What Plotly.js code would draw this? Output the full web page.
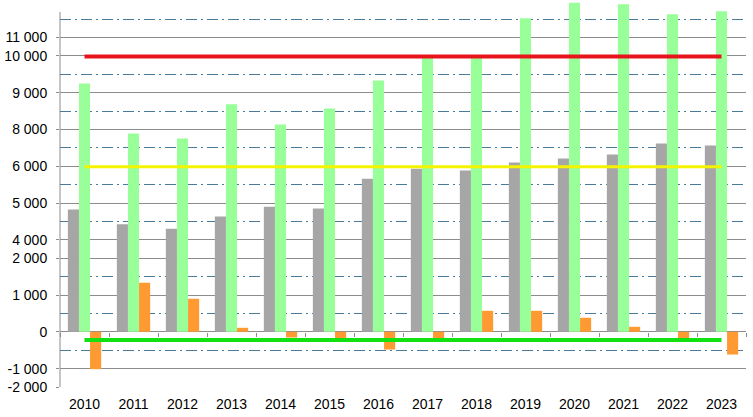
<!DOCTYPE html>
<html>
<head>
<meta charset="utf-8">
<script src="https://cdn.plot.ly/plotly-3.0.1.min.js"></script>
<style>html,body{margin:0;padding:0;background:#fff;}#chart{width:753px;height:417px;}</style>
</head>
<body>
<div id="chart"></div>
<script>
// Categories
var years = ['2010','2011','2012','2013','2014','2015','2016','2017','2018','2019','2020','2021','2022','2023'];
// Series values (in the chart's linear plotting scale)
var greySeries   = [3320, 2920, 2800, 3130, 3400, 3350, 4160, 4430, 4380, 4600, 4710, 4820, 5120, 5060];
var greenSeries  = [6750, 5390, 5250, 6180, 5630, 6070, 6830, 7450, 7460, 8520, 8940, 8900, 8630, 8710];
var orangeSeries = [-1015, 1333, 898, 109, -155, -190, -482, -198, 571, 571, 381, 136, -190, -618];
// Reference lines
var redLine    = [7483, 7483, 7483, 7483, 7483, 7483, 7483, 7483, 7483, 7483, 7483, 7483, 7483, 7483];
var yellowLine = [4482, 4482, 4482, 4482, 4482, 4482, 4482, 4482, 4482, 4482, 4482, 4482, 4482, 4482];
var limeLine   = [-226, -226, -226, -226, -226, -226, -226, -226, -226, -226, -226, -226, -226, -226];
// Tick labels
var tickVals  = [-1500, -1000, 0, 1000, 2000, 2500, 3500, 4500, 5500, 6500, 7500, 8000];
var tickTexts = ['-2 000', '-1 000', '0', '1 000', '2 000', '4 000', '5 000', '6 000', '8 000', '9 000', '10 000', '11 000'];
var minorVals = [-500, 500, 1500, 3000, 4000, 5000, 6000, 7000, 8500];

var yMin = -1500, yMax = 8989, axisTop = 8690;

var traces = [
  {type:'bar', x:years, y:greySeries, marker:{color:'#a6a6a6'}, name:'A'},
  {type:'bar', x:years, y:greenSeries, marker:{color:'#99ff99'}, name:'B'},
  {type:'bar', x:years, y:orangeSeries, marker:{color:'#ff9a33'}, name:'C'},
  {type:'scatter', mode:'lines', x:years, y:redLine, line:{color:'#e8141c', width:4}, name:'D'},
  {type:'scatter', mode:'lines', x:years, y:yellowLine, line:{color:'#f4f400', width:3}, name:'E'},
  {type:'scatter', mode:'lines', x:years, y:limeLine, line:{color:'#11e011', width:4}, name:'F'}
];

var layout = {
  width:753, height:417,
  margin:{l:60, r:7, t:1, b:30},
  paper_bgcolor:'#fff', plot_bgcolor:'#fff',
  showlegend:false,
  barmode:'group', bargap:0.32, bargroupgap:0,
  font:{family:'Liberation Sans, Arial, sans-serif', size:14, color:'#000'},
  xaxis:{
    type:'category', categoryorder:'array', categoryarray:years,
    anchor:'free', position:(0 - yMin)/(yMax - yMin),
    showline:false, showgrid:false, zeroline:false,
    ticks:'outside', ticklen:4, tickcolor:'#8c8c8c', tickwidth:1, tickson:'boundaries',
    ticklabelstandoff:62,
    tickfont:{size:14, color:'#000'}
  },
  yaxis:{
    range:[yMin, yMax], autorange:false,
    tickmode:'array', tickvals:tickVals, ticktext:tickTexts,
    showline:false, showgrid:true, gridcolor:'#8c8c8c', gridwidth:1,
    zeroline:true, zerolinecolor:'#8c8c8c', zerolinewidth:1,
    ticks:'outside', ticklen:3, tickcolor:'#8c8c8c', ticklabelstandoff:6,
    tickfont:{size:14, color:'#000'},
    minor:{tickmode:'array', tickvals:minorVals, showgrid:true, gridcolor:'#4a7a9a', gridwidth:1, griddash:'11px,4px,2px,4px', ticks:''}
  },
  shapes:[
    {type:'line', xref:'paper', yref:'y', x0:0, x1:0, y0:yMin, y1:axisTop, line:{color:'#8c8c8c', width:1}, layer:'below'}
  ]
};

Plotly.newPlot('chart', traces, layout, {staticPlot:true, displayModeBar:false});
</script>
</body>
</html>
